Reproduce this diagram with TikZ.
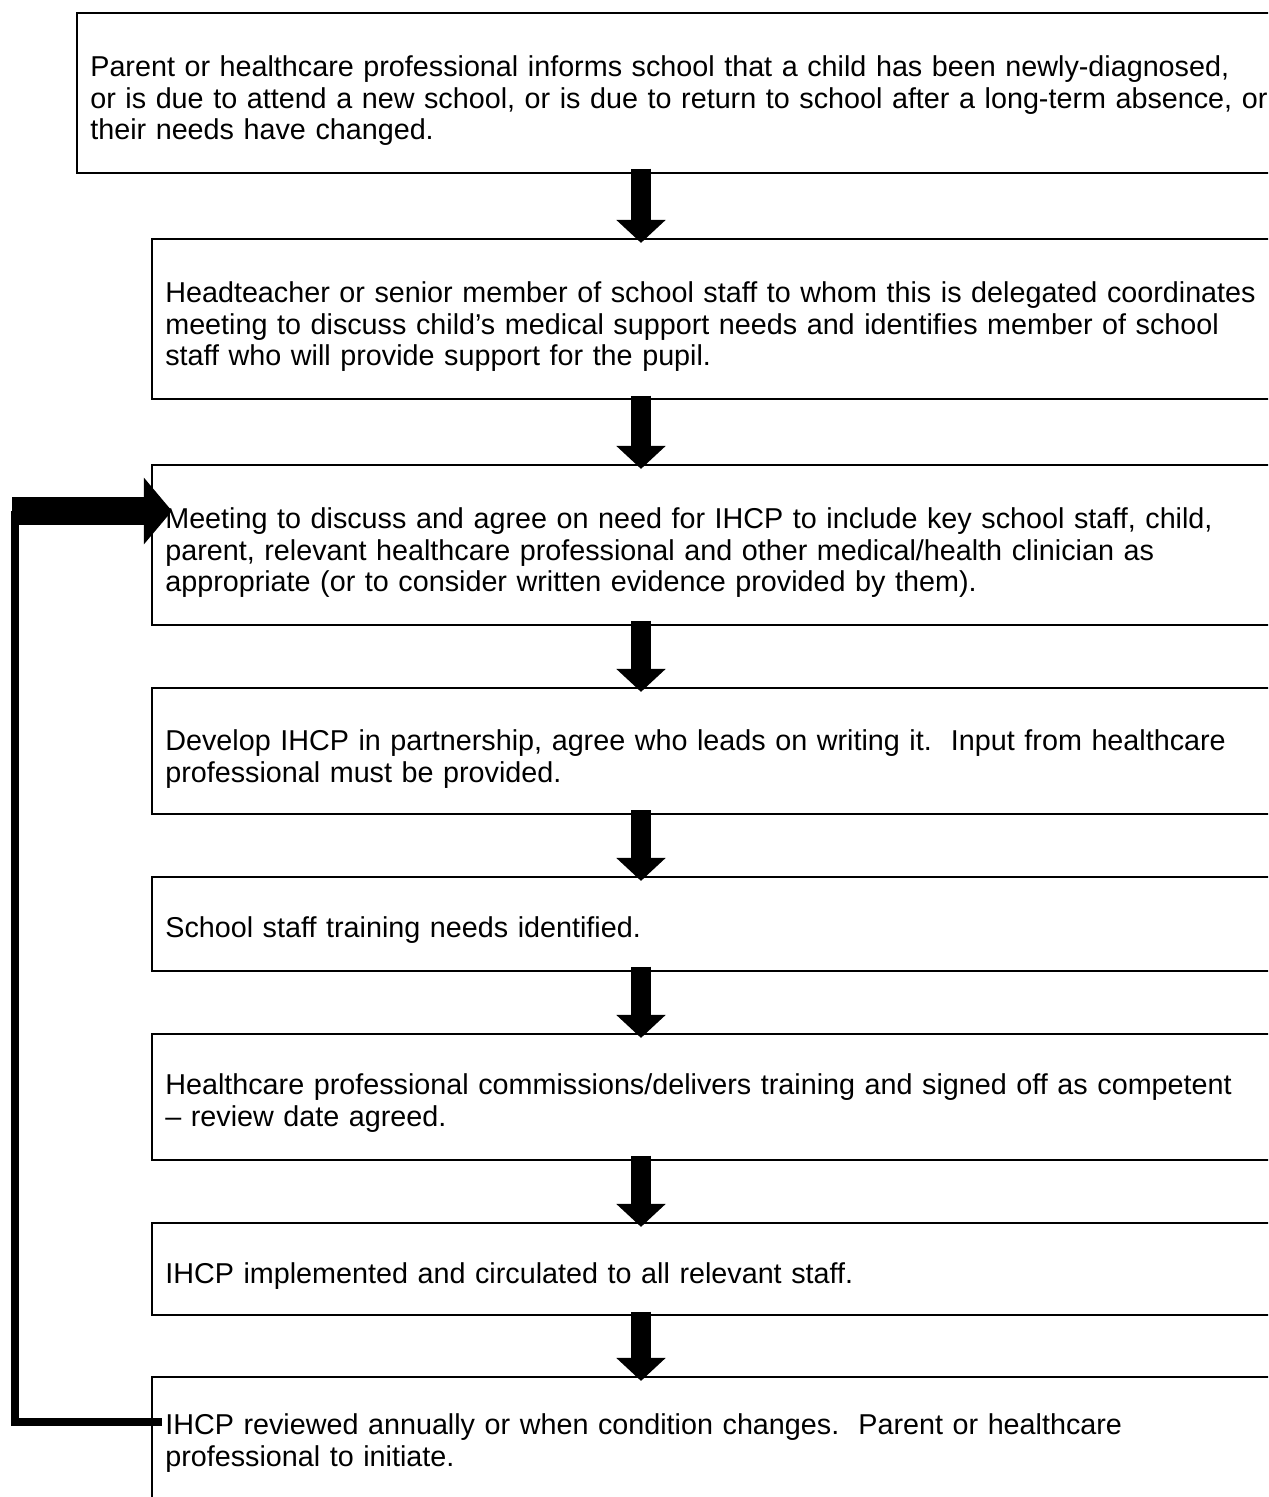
\documentclass[tikz,border=0pt]{standalone}
\usepackage{fontspec}
\setmainfont{Liberation Sans}
\usetikzlibrary{arrows.meta}
\tikzset{
  stage/.style={draw, line width=0.87pt, anchor=north west, align=left,
    text width=520pt, inner xsep=5.8pt, inner ysep=0pt, outer sep=0pt,
    text height=26.3pt, font=\fontsize{12.5pt}{13.8pt}\selectfont\frenchspacing},
  flowarrow/.style={line width=8.7pt, -{Triangle[width=20.9pt,length=10pt]}},
  returnline/.style={line width=3.2pt},
  returnarrow/.style={line width=12.2pt, -{Triangle[width=28.3pt,length=12.2pt]}}
}
\begin{document}
\begin{tikzpicture}[x=0.435pt, y=-0.435pt]
  \useasboundingbox (0,0) rectangle (1268,1497);
  \clip (0,0) rectangle (1268,1497);
  \node[stage, text height=27.6pt, text depth=41.8pt] (s1) at (77,13) {Parent or healthcare professional informs school that a child has been newly-diagnosed,\\
    or is due to attend a new school, or is due to return to school after a long-term absence, or\\
    their needs have changed.};
  \node[stage, text height=27.6pt, text depth=42.2pt] (s2) at (152,239) {Headteacher or senior member of school staff to whom this is delegated coordinates\\
    meeting to discuss child’s medical support needs and identifies member of school\\
    staff who will provide support for the pupil.};
  \node[stage, text height=27.6pt, text depth=41.8pt] (s3) at (152,465) {Meeting to discuss and agree on need for IHCP to include key school staff, child,\\
    parent, relevant healthcare professional and other medical/health clinician as\\
    appropriate (or to consider written evidence provided by them).};
  \node[stage, text height=27.4pt, text depth=27.4pt] (s4) at (152,688) {Develop IHCP in partnership, agree who leads on writing it.\ \ Input from healthcare\\
    professional must be provided.};
  \node[stage, text depth=14.4pt] (s5) at (152,877) {School staff training needs identified.};
  \node[stage, text depth=28.3pt] (s6) at (152,1034) {Healthcare professional commissions/delivers training and signed off as competent\\
    – review date agreed.};
  \node[stage, text depth=13.9pt] (s7) at (152,1223) {IHCP implemented and circulated to all relevant staff.};
  \node[stage, text height=25.2pt, text depth=43.5pt] (s8) at (152,1377) {IHCP reviewed annually or when condition changes.\ \ Parent or healthcare\\
    professional to initiate.};
  \coordinate (ax) at (641,0);
  \foreach \a/\b in {s1/s2,s2/s3,s3/s4,s4/s5,s5/s6,s6/s7,s7/s8}
    \draw[flowarrow] ([yshift=1.7pt]\a.south -| ax) -- ([yshift=-1.7pt]\b.north -| ax);
  \coordinate (turn) at (15,511);
  \draw[returnline] ([shift={(10,45)}]s8.north west) -| (turn);
  \draw[returnarrow] ([xshift=-1.3pt]turn) -- ([xshift=8.7pt]turn -| s3.west);
\end{tikzpicture}
\end{document}
